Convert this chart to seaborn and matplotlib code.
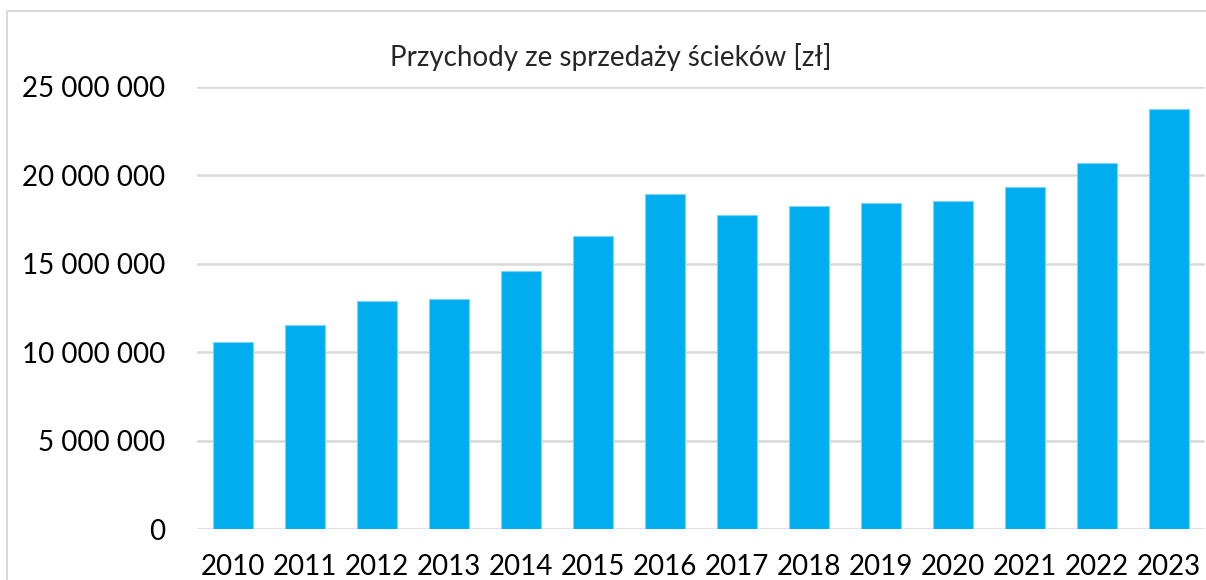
import numpy as np
import pandas as pd
import seaborn as sns
from matplotlib import pyplot as plt
from matplotlib.lines import Line2D
from matplotlib.ticker import FuncFormatter

years = ['2010', '2011', '2012', '2013', '2014', '2015', '2016',
         '2017', '2018', '2019', '2020', '2021', '2022', '2023']
revenue = [10570000, 11540000, 12900000, 12990000, 14580000, 16550000, 18960000,
           17740000, 18280000, 18450000, 18560000, 19340000, 20710000, 23730000]

df = pd.DataFrame({'Rok': years, 'Przychody': revenue})

sns.set_style('white')
plt.rcParams['font.family'] = ['Lato', 'DejaVu Sans']

fig = plt.figure(figsize=(12.06, 5.8), dpi=100)
ax = fig.add_axes([197/1206, 1 - 529.3/580, 1008/1206, (529.3 - 86.9)/580])

sns.barplot(data=df, x='Rok', y='Przychody', color='#00AEEF', width=0.55,
            saturation=1, edgecolor='#7FD3F5', linewidth=0.8, ax=ax, zorder=3)

ax.set_ylim(0, 25000000)
ax.set_yticks(np.arange(0, 25000001, 5000000))
ax.yaxis.set_major_formatter(FuncFormatter(lambda v, p: f'{int(v):,}'.replace(',', ' ')))
ax.grid(axis='y', color='#D9D9D9', linewidth=1.8, zorder=0)
ax.set_axisbelow(True)
for s in ax.spines.values():
    s.set_visible(False)
ax.tick_params(axis='y', length=0, pad=23, labelsize=20, colors='black')
ax.tick_params(axis='x', length=0, pad=18, labelsize=20, colors='black')
ax.set_xlabel('')
ax.set_ylabel('')

fig.text(611/1206, 1 - 57/580, 'Przychody ze sprzedaży ścieków [zł]',
         ha='center', va='center', fontsize=20)

# chart border (left and top edges visible)
fig.add_artist(Line2D([7/1206, 7/1206], [0, 1 - 11/580], color='#D9D9D9', linewidth=1.5))
fig.add_artist(Line2D([7/1206, 1], [1 - 11/580, 1 - 11/580], color='#D9D9D9', linewidth=1.5))

fig.savefig('out.png', dpi=100)
